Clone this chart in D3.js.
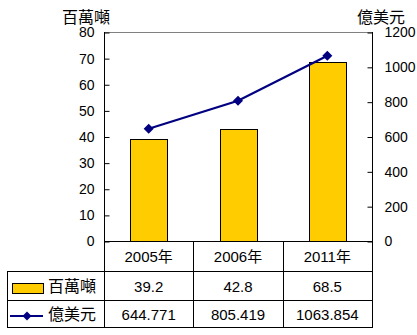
<!DOCTYPE html>
<html>
<head>
<meta charset="utf-8">
<script src="https://cdn.jsdelivr.net/npm/d3@7/dist/d3.min.js"></script>
<style>
  html, body { margin: 0; padding: 0; background: #fff; }
  svg { display: block; }
  text { font-family: "Liberation Sans", Arial, "Noto Sans CJK TC", sans-serif; fill: #000; }
</style>
</head>
<body>
<svg id="chart" width="417" height="335"></svg>
<script>
// Chart data
const categories = ["2005年", "2006年", "2011年"];
const tonnage = [39.2, 42.8, 68.5];              // 百萬噸
const tradeValue = [644.771, 805.419, 1063.854]; // 億美元
const tonnageLabels = ["39.2", "42.8", "68.5"];
const valueLabels = ["644.771", "805.419", "1063.854"];
const leftTicks = [0, 10, 20, 30, 40, 50, 60, 70, 80];
const rightTicks = [0, 200, 400, 600, 800, 1000, 1200];
const seriesNames = ["百萬噸", "億美元"];

(function () {
  const svg = d3.select("#chart");
  const plotLeft = 104, plotRight = 372, plotTop = 32, plotBottom = 241;
  const tableLeft = 7;
  const rowLines = [241, 271, 300, 327];

  const x = d3.scaleBand().domain(categories).range([plotLeft, plotRight]).padding(0);
  const yL = d3.scaleLinear().domain([0, 80]).range([plotBottom, plotTop]);
  const yR = d3.scaleLinear().domain([0, 1200]).range([plotBottom, plotTop]);

  const barColor = "#FFCC00";
  const lineColor = "#000080";
  const cx = c => x(c) + x.bandwidth() / 2;

  // Bars
  const barW = x.bandwidth() * 0.41;
  svg.append("g").selectAll("rect").data(tonnage).join("rect")
    .attr("x", (d, i) => Math.round(cx(categories[i]) - barW / 2) + 0.5)
    .attr("y", d => Math.round(yL(d)) + 0.5)
    .attr("width", Math.round(barW))
    .attr("height", d => plotBottom - Math.round(yL(d)))
    .attr("fill", barColor)
    .attr("stroke", "#000")
    .attr("stroke-width", 1);

  // Plot frame top (gray)
  svg.append("line").attr("x1", plotLeft).attr("x2", plotRight).attr("y1", plotTop + 0.5).attr("y2", plotTop + 0.5)
    .attr("stroke", "#808080");

  // Left axis (ticks inside)
  const gL = svg.append("g").attr("transform", `translate(${plotLeft + 0.5},0.5)`)
    .call(d3.axisLeft(yL).tickValues(leftTicks).tickFormat(d3.format("d")).tickSize(-5).tickPadding(10));
  gL.select(".domain").remove();
  gL.selectAll("line").attr("stroke", "#000");
  gL.selectAll("text").style("font-size", "14px");

  // Right axis (ticks inside)
  const gR = svg.append("g").attr("transform", `translate(${plotRight + 0.5},0.5)`)
    .call(d3.axisRight(yR).tickValues(rightTicks).tickFormat(d3.format("d")).tickSize(-5).tickPadding(12));
  gR.select(".domain").remove();
  gR.selectAll("line").attr("stroke", "#000");
  gR.selectAll("text").style("font-size", "14px");

  // Axis titles
  svg.append("text").attr("x", 86).attr("y", 23).attr("text-anchor", "middle")
    .style("font-size", "16px").text(seriesNames[0]);
  svg.append("text").attr("x", 381).attr("y", 23).attr("text-anchor", "middle")
    .style("font-size", "16px").text(seriesNames[1]);

  // Line series with diamond markers
  const lineGen = d3.line()
    .x((d, i) => cx(categories[i]))
    .y(d => yR(d));
  svg.append("path").datum(tradeValue)
    .attr("d", lineGen)
    .attr("fill", "none")
    .attr("stroke", lineColor)
    .attr("stroke-width", 2.2);
  svg.append("g").selectAll("path").data(tradeValue).join("path")
    .attr("transform", (d, i) => `translate(${cx(categories[i])},${yR(d)}) rotate(45)`)
    .attr("d", d3.symbol().type(d3.symbolSquare).size(50))
    .attr("fill", lineColor);

  // Data table grid
  const grid = svg.append("g").attr("stroke", "#000").attr("stroke-width", 1);
  grid.append("line").attr("x1", plotLeft).attr("x2", plotRight + 1).attr("y1", rowLines[0] + 0.5).attr("y2", rowLines[0] + 0.5);
  rowLines.slice(1).forEach(y => {
    grid.append("line").attr("x1", tableLeft).attr("x2", plotRight + 1).attr("y1", y + 0.5).attr("y2", y + 0.5);
  });
  grid.append("line").attr("x1", tableLeft + 0.5).attr("x2", tableLeft + 0.5).attr("y1", rowLines[1]).attr("y2", rowLines[3] + 1);
  [plotLeft, plotRight].forEach(xx => {
    grid.append("line").attr("x1", xx + 0.5).attr("x2", xx + 0.5).attr("y1", plotTop).attr("y2", rowLines[3] + 1);
  });
  categories.slice(1).forEach(c => {
    const xx = Math.round(x(c));
    grid.append("line").attr("x1", xx + 0.5).attr("x2", xx + 0.5).attr("y1", rowLines[0]).attr("y2", rowLines[3] + 1);
  });

  // Table text
  const rowMid = i => (rowLines[i] + rowLines[i + 1]) / 2 + 1;
  svg.append("g").selectAll("text").data(categories).join("text")
    .attr("x", d => cx(d)).attr("y", rowMid(0)).attr("dy", "0.35em")
    .attr("text-anchor", "middle").style("font-size", "15px").text(d => d);
  svg.append("g").selectAll("text").data(tonnageLabels).join("text")
    .attr("x", (d, i) => cx(categories[i])).attr("y", rowMid(1)).attr("dy", "0.35em")
    .attr("text-anchor", "middle").style("font-size", "15px").text(d => d);
  svg.append("g").selectAll("text").data(valueLabels).join("text")
    .attr("x", (d, i) => cx(categories[i])).attr("y", rowMid(2)).attr("dy", "0.35em")
    .attr("text-anchor", "middle").style("font-size", "15px").text(d => d);

  // Legend keys inside the table
  svg.append("rect").attr("x", 12.5).attr("y", 283.5).attr("width", 31).attr("height", 10)
    .attr("fill", barColor).attr("stroke", "#000");
  svg.append("text").attr("x", 48).attr("y", rowMid(1)).attr("dy", "0.35em")
    .style("font-size", "16px").text(seriesNames[0]);
  svg.append("line").attr("x1", 10).attr("x2", 43).attr("y1", 316).attr("y2", 316)
    .attr("stroke", lineColor).attr("stroke-width", 2);
  svg.append("path").attr("transform", "translate(27,316) rotate(45)")
    .attr("d", d3.symbol().type(d3.symbolSquare).size(40)).attr("fill", lineColor);
  svg.append("text").attr("x", 48).attr("y", rowMid(2)).attr("dy", "0.35em")
    .style("font-size", "16px").text(seriesNames[1]);
})();
</script>
</body>
</html>
